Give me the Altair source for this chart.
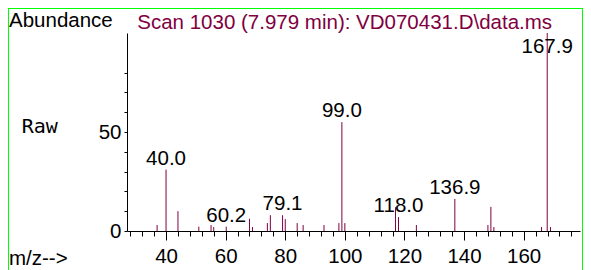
import altair as alt
import pandas as pd

# ---- data ----
mz = [37.0, 40.0, 44.0, 51.0, 55.1, 56.0, 60.2, 68.0, 69.0, 74.0, 75.0, 79.1, 80.0,
      84.0, 86.0, 93.0, 98.0, 99.0, 100.0, 117.0, 118.0, 124.0, 136.9, 148.0, 149.0,
      150.0, 166.0, 167.9, 169.0]
abundance = [3.0, 31.0, 10.0, 2.2, 3.0, 2.0, 2.2, 6.2, 2.0, 4.0, 8.0, 8.0, 6.0,
             4.0, 3.0, 3.0, 4.0, 55.0, 4.0, 12.0, 7.0, 3.0, 16.2, 3.0, 12.2,
             2.0, 2.0, 100.0, 2.0]
label_mz = [40.0, 60.2, 79.1, 99.0, 118.0, 136.9, 167.9]
label_ab = [31.0, 2.2, 8.0, 55.0, 7.0, 16.2, 100.0]
label_text = ["40.0", "60.2", "79.1", "99.0", "118.0", "136.9", "167.9"]
x_ticks = list(range(28, 177, 4))
y_ticks = list(range(0, 81, 10))

title_text = "Scan 1030 (7.979 min): VD070431.D\\data.ms"
FONT = "Liberation Sans"
MONO = "DejaVu Sans Mono"
PEAK = "#800040"
GREEN = "#00ff00"

peaks = pd.DataFrame({"mz": mz, "ab": abundance})
labels = pd.DataFrame({"mz": label_mz, "ab": label_ab, "text": label_text})
one = pd.DataFrame({"k": [0]})

xs = alt.Scale(domain=[26.9, 178.9], nice=False, zero=False)
ys = alt.Scale(domain=[0, 100], nice=False, zero=True)

x_axis = alt.Axis(
    values=x_ticks, title=None, grid=False,
    labelExpr="datum.value % 20 === 0 ? datum.label : ''",
    tickSize={"condition": {"test": "datum.value % 20 === 0", "value": 9}, "value": 5},
    labelPadding=6, labelFlush=False, labelOverlap=False,
)
y_axis = alt.Axis(
    values=y_ticks, title=None, grid=False,
    labelExpr="datum.value === 0 || datum.value === 50 ? datum.label : ''",
    tickSize=3, labelPadding=3, labelOverlap=False,
)

bars = alt.Chart(peaks).mark_rule(color=PEAK, strokeWidth=1).encode(
    x=alt.X("mz:Q", scale=xs, axis=x_axis, title=None),
    y=alt.Y("ab:Q", scale=ys, axis=y_axis, title=None),
    y2=alt.datum(0),
)

peak_text = alt.Chart(labels).transform_calculate(
    ly="min(datum.ab, 87.3)"
).mark_text(font=FONT, fontSize=20.5, color="black", baseline="alphabetic", dy=-5).encode(
    x=alt.X("mz:Q", scale=xs, axis=x_axis, title=None),
    y=alt.Y("ly:Q", scale=ys, axis=y_axis, title=None),
    text="text:N",
)


def txt(s, x, y, color="black", font=FONT, size=20.5):
    return alt.Chart(one).mark_text(
        text=s, align="left", baseline="alphabetic", font=font, fontSize=size, color=color
    ).encode(x=alt.value(x), y=alt.value(y))


def line(x, x2, y, y2):
    return alt.Chart(one).mark_rule(color=GREEN, strokeWidth=1).encode(
        x=alt.value(x), x2=alt.value(x2), y=alt.value(y), y2=alt.value(y2)
    )


decor = [
    line(-118.5, -118.5, -26, 240),
    line(455.5, 455.5, -26, 240),
    line(-119, 457, -24.5, -24.5),
    txt("Abundance", -118, -6.3),
    txt(title_text, 10.3, -3.7, color=PEAK),
    txt("Raw", -105.3, 100.3, font=MONO, size=20),
    txt("m/z-->", -118, 232),
]

chart = alt.layer(bars, peak_text, *decor).properties(
    width=453, height=198,
    autosize=alt.AutoSizeParams(type="none"),
    padding={"left": 119, "top": 25, "right": 3, "bottom": 39},
    background="white",
).configure_view(stroke=None).configure_axis(
    labelFontSize=20.5, labelFont=FONT, labelColor="black",
    tickColor="black", domainColor="black", labelOverlap=False,
    labelFlush=False, grid=False,
)

chart.save("out.html", embed_options={"renderer": "svg", "actions": False})
